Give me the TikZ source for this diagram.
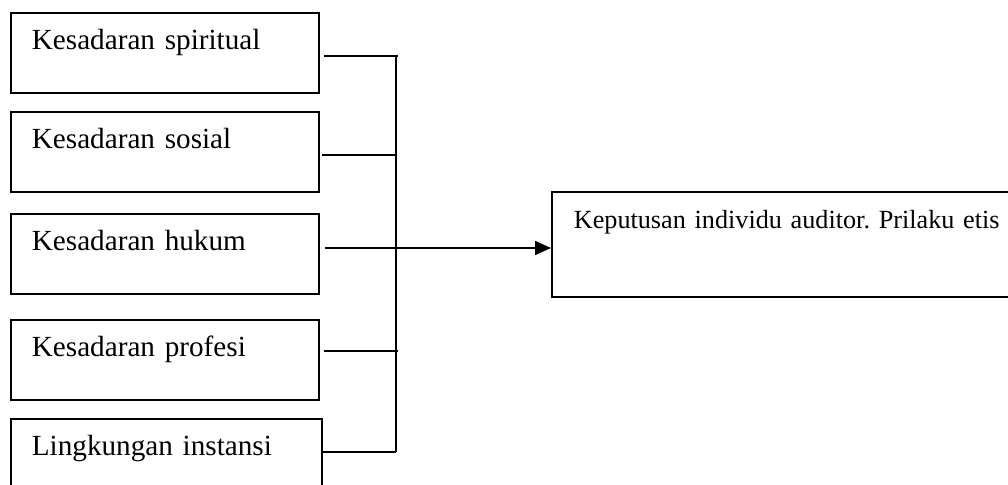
\documentclass[tikz,border=0pt]{standalone}
\usepackage{fontspec}
\setmainfont{Liberation Serif}
\frenchspacing
\usetikzlibrary{arrows.meta}
\tikzset{
  factor/.style={draw, line width=1.7pt, anchor=north west, align=left,
    inner xsep=21pt, inner ysep=0pt, text width=266pt,
    text height=37pt, text depth=43pt,
    font=\fontsize{29.2}{33}\selectfont},
  result/.style={draw, line width=1.7pt, anchor=north west, align=left,
    inner xsep=22pt, inner ysep=0pt, text width=466pt,
    text height=37pt, text depth=68pt,
    font=\fontsize{26.2}{30}\selectfont},
  link/.style={line width=1.7pt},
  arrowlink/.style={line width=1.7pt, -{Triangle[length=16pt, width=14pt]}}
}
\begin{document}
\begin{tikzpicture}[x=1pt, y=-1pt]
\useasboundingbox (0,0) rectangle (1008,484);
\node[factor] (b1) at (10,12)  {Kesadaran spiritual};
\node[factor] (b2) at (10,111) {Kesadaran sosial};
\node[factor] (b3) at (10,213) {Kesadaran hukum};
\node[factor] (b4) at (10,319) {Kesadaran profesi};
\node[factor, text width=269pt] (b5) at (10,418) {Lingkungan instansi};
\node[result] (r) at (551,191) {Keputusan individu auditor. Prilaku etis};
\coordinate (j1) at (398,56);
\coordinate (j2) at (396,155);
\coordinate (j4) at (398,351);
\coordinate (j5) at (396,452);
\coordinate (jt) at (396,56);
\draw[link] ([xshift=4pt]b1.east |- j1) -- (j1);
\draw[link] ([xshift=2pt]b2.east |- j2) -- (j2);
\draw[link] ([xshift=4pt]b4.east |- j4) -- (j4);
\draw[link] (b5.east |- j5) -- (j5);
\draw[link] (jt) -- (j5);
\draw[arrowlink] ([xshift=5pt]b3.east |- 0,248) -- (r.west |- 0,248);
\end{tikzpicture}
\end{document}
